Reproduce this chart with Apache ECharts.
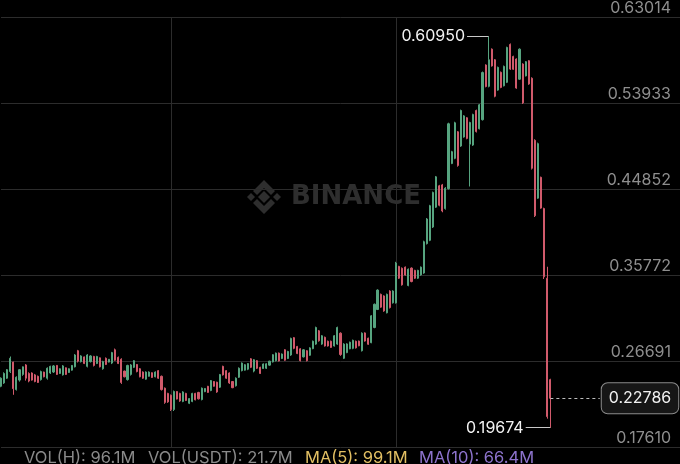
<!DOCTYPE html>
<html>
<head>
<meta charset="utf-8">
<script src="https://cdn.jsdelivr.net/npm/echarts@6/dist/echarts.min.js"></script>
<style>
html,body{margin:0;padding:0;background:#000;}
#chart{width:680px;height:464px;}
</style>
</head>
<body>
<div id="chart"></div>
<script>
// ---- data (hourly candles) ----
const opens = [
.2405,.2440,.2490,.2560,.2660,.2370,.2470,.2530,.2630,.2540,.2545,.2525,.2510,.2475,.2555,.2490,.2545,.2555,.2625,.2540,
.2525,.2600,.2550,.2575,.2610,.2780,.2665,.2715,.2615,.2665,.2720,.2645,.2705,.2590,.2700,.2660,.2650,.2790,.2710,.2690,
.2565,.2475,.2530,.2605,.2635,.2590,.2555,.2480,.2510,.2548,.2505,.2570,.2510,.2385,.2330,.2310,.2160,.2350,.2330,.2245,
.2330,.2225,.2245,.2330,.2340,.2265,.2348,.2405,.2360,.2455,.2448,.2395,.2615,.2570,.2545,.2455,.2410,.2500,.2570,.2575,
.2585,.2695,.2565,.2675,.2605,.2592,.2595,.2628,.2662,.2675,.2755,.2698,.2790,.2698,.2735,.2918,.2825,.2800,.2715,.2780,
.2732,.2802,.2850,.2990,.2850,.2922,.2880,.2880,.2830,.2850,.2965,.2700,.2760,.2800,.2805,.2880,.2882,.2780,.2968,.2912,
.2865,.3025,.3215,.3375,.3358,.3180,.3410,.3285,.3285,.3670,.3650,.3662,.3468,.3652,.3628,.3545,.3580,.3600,.3910,.3945,
.4085,.4295,.4520,.4530,.4280,.4490,.4755,.4810,.5090,.4940,.5035,.5238,.4960,.4950,.5315,.5122,.5218,.5795,.5570,.5962,
.5850,.5530,.5718,.5575,.5612,.6012,.5885,.5858,.5645,.5805,.5680,.5840,.5655,.5000,.4390,.4610,.4280,.3545,.2475
];
const closes = [
.2490,.2540,.2580,.2700,.2380,.2500,.2580,.2610,.2490,.2460,.2470,.2455,.2445,.2560,.2505,.2595,.2615,.2620,.2530,.2590,
.2620,.2530,.2590,.2625,.2735,.2670,.2725,.2645,.2735,.2725,.2625,.2720,.2610,.2665,.2635,.2690,.2760,.2680,.2645,.2445,
.2505,.2625,.2630,.2675,.2560,.2505,.2490,.2555,.2555,.2498,.2555,.2490,.2370,.2235,.2240,.2160,.2350,.2270,.2250,.2345,
.2255,.2275,.2330,.2262,.2272,.2385,.2382,.2340,.2465,.2405,.2345,.2528,.2525,.2490,.2440,.2390,.2490,.2595,.2650,.2632,
.2645,.2605,.2685,.2595,.2540,.2640,.2642,.2670,.2738,.2755,.2672,.2745,.2680,.2772,.2910,.2805,.2750,.2675,.2790,.2675,
.2810,.2880,.3025,.2885,.2938,.2830,.2830,.2815,.2938,.3025,.2740,.2850,.2852,.2870,.2890,.2810,.2832,.2965,.2882,.2848,
.3148,.3270,.3420,.3240,.3200,.3375,.3235,.3410,.3705,.3545,.3475,.3578,.3640,.3510,.3545,.3628,.3662,.3930,.4170,.4310,
.4450,.4615,.4315,.4255,.4495,.5175,.4880,.5185,.4735,.5315,.5258,.5020,.5188,.5272,.5092,.5375,.5715,.5568,.5850,.5785,
.5465,.5770,.5558,.5780,.5980,.5752,.5750,.5552,.5962,.5395,.5830,.5595,.4705,.4205,.4965,.4285,.3560,.2085,.22786
];
const lows = [
.2395,.2430,.2483,.2545,.2315,.2360,.2454,.2516,.2465,.2447,.2465,.2447,.2440,.2465,.2499,.2475,.2535,.2545,.2524,.2535,
.2518,.2524,.2545,.2570,.2604,.2656,.2656,.2639,.2604,.2656,.2614,.2639,.2604,.2580,.2629,.2656,.2639,.2674,.2639,.2430,
.2499,.2465,.2518,.2597,.2552,.2499,.2483,.2474,.2507,.2493,.2499,.2483,.2360,.2220,.2230,.2144,.2144,.2266,.2241,.2237,
.2249,.2217,.2237,.2256,.2266,.2256,.2343,.2336,.2353,.2401,.2336,.2388,.2518,.2483,.2430,.2385,.2402,.2493,.2562,.2570,
.2575,.2597,.2552,.2587,.2535,.2587,.2587,.2622,.2656,.2667,.2667,.2692,.2674,.2692,.2726,.2796,.2744,.2667,.2709,.2667,
.2726,.2796,.2842,.2876,.2842,.2824,.2824,.2810,.2824,.2842,.2726,.2692,.2754,.2796,.2796,.2803,.2827,.2772,.2876,.2842,
.2859,.3017,.3209,.3233,.3191,.3174,.3226,.3278,.3278,.3537,.3467,.3572,.3460,.3502,.3537,.3537,.3572,.3592,.3901,.3936,
.4075,.4287,.4304,.4241,.4269,.4481,.4749,.4801,.4722,.4931,.5028,.5011,.4513,.4941,.5083,.5115,.5209,.5559,.5559,.5778,
.5454,.5523,.5550,.5569,.5604,.5743,.5743,.5544,.5638,.5384,.5674,.5586,.4692,.4191,.4383,.4278,.3537,.2063,.19674
];
const highs = [
.2499,.2552,.2587,.2719,.2664,.2510,.2587,.2614,.2639,.2552,.2552,.2535,.2518,.2570,.2559,.2604,.2622,.2629,.2629,.2594,
.2629,.2604,.2594,.2629,.2744,.2789,.2733,.2719,.2744,.2733,.2726,.2726,.2709,.2674,.2709,.2692,.2768,.2803,.2719,.2700,
.2570,.2632,.2639,.2681,.2639,.2597,.2562,.2562,.2562,.2552,.2562,.2576,.2518,.2392,.2336,.2318,.2360,.2353,.2336,.2353,
.2336,.2280,.2336,.2336,.2346,.2392,.2385,.2409,.2471,.2460,.2453,.2535,.2622,.2576,.2552,.2460,.2499,.2604,.2656,.2639,
.2650,.2702,.2692,.2681,.2611,.2646,.2648,.2674,.2744,.2761,.2761,.2751,.2796,.2779,.2918,.2925,.2831,.2807,.2796,.2786,
.2817,.2887,.3034,.2999,.2945,.2929,.2887,.2887,.2945,.3034,.2974,.2859,.2859,.2876,.2897,.2887,.2887,.2974,.2974,.2918,
.3156,.3278,.3428,.3383,.3365,.3383,.3418,.3418,.3718,.3676,.3659,.3669,.3648,.3659,.3634,.3634,.3669,.3941,.4180,.4319,
.4459,.4624,.4530,.4540,.4506,.5186,.4889,.5196,.5098,.5324,.5266,.5245,.5196,.5281,.5324,.5384,.5726,.5802,.6095,.5970,
.5858,.5778,.5726,.5789,.5988,.6022,.5893,.5865,.5970,.5813,.5837,.5847,.5665,.5011,.4976,.4617,.4289,.3666,.2484
];
// hourly slots on the time axis (traded hours + empty future hours up to the price scale)
const slotCount = 221;
const categories = Array.from({ length: slotCount }, (_, i) => 'H' + i);
const yTicks = [0.17610, 0.26691, 0.35772, 0.44852, 0.53933, 0.63014];
const timeGridIdx = [55, 128];
const legendItems = [
  { label: 'VOL(H)', value: '96.1M' },
  { label: 'VOL(USDT)', value: '21.7M' },
  { label: 'MA(5)', value: '99.1M' },
  { label: 'MA(10)', value: '66.4M' }
];

// ---- chart ----
const UP = '#56a47f', DOWN = '#d05a6b';
const FONT = 'Inter, "Noto Sans", sans-serif';
const ohlc = opens.map((o, i) => [o, closes[i], lows[i], highs[i]]);
const lastIdx = ohlc.length - 1;
const lastPrice = closes[lastIdx];
const hi = Math.max(...highs), hiIdx = highs.indexOf(hi);
const lo = Math.min(...lows), loIdx = lows.indexOf(lo);

const chart = echarts.init(document.getElementById('chart'), null, { renderer: 'canvas' });

const legendX = [24, 148, 305, 419];
const legendColors = ['#8a8a8a', '#8a8a8a', '#e2bf63', '#8d73cc'];
const WM = '#2e2e2e';

const option = {
  backgroundColor: '#000',
  animation: false,
  grid: { left: 1, right: 0, top: 13.3, bottom: 16.7 },
  xAxis: {
    type: 'category',
    data: categories,
    boundaryGap: false,
    axisLine: { show: false },
    axisTick: { show: false },
    axisLabel: { show: false },
    splitLine: {
      show: true,
      interval: (idx) => timeGridIdx.indexOf(idx) >= 0,
      lineStyle: { color: '#2c2c2c', width: 1 }
    }
  },
  yAxis: {
    type: 'value',
    position: 'right',
    min: yTicks[0],
    max: yTicks[yTicks.length - 1],
    interval: (yTicks[yTicks.length - 1] - yTicks[0]) / (yTicks.length - 1),
    axisLine: { show: false },
    axisTick: { show: false },
    axisLabel: {
      inside: true,
      margin: 9,
      color: '#8e8e8e',
      fontFamily: FONT,
      fontSize: 16,
      verticalAlign: 'bottom',
      padding: [0, 0, 1, 0],
      formatter: (v) => {
        let best = yTicks[0];
        yTicks.forEach(t => { if (Math.abs(t - v) < Math.abs(best - v)) best = t; });
        return best.toFixed(5);
      }
    },
    splitLine: { show: true, lineStyle: { color: '#2c2c2c', width: 1 } }
  },
  graphic: [
    {
      type: 'group', left: 247, top: 180, z: 0, silent: true,
      children: [
        { type: 'polygon', shape: { points: [[17,11],[23,17],[17,23],[11,17]] }, style: { fill: WM } },
        { type: 'polygon', shape: { points: [[4,13],[8,17],[4,21],[0,17]] }, style: { fill: WM } },
        { type: 'polygon', shape: { points: [[30,13],[34,17],[30,21],[26,17]] }, style: { fill: WM } },
        { type: 'polygon', shape: { points: [[17,0],[28,11],[24,15],[17,8],[10,15],[6,11]] }, style: { fill: WM } },
        { type: 'polygon', shape: { points: [[17,34],[28,23],[24,19],[17,26],[10,19],[6,23]] }, style: { fill: WM } },
        { type: 'text', x: 44, y: 17, style: { text: 'BINANCE', fill: WM, font: 'bold 26px "DejaVu Sans", sans-serif', textVerticalAlign: 'middle' } }
      ]
    }
  ].concat(legendItems.map((it, i) => ({
    type: 'text', left: legendX[i], top: 450, z: 10, silent: true,
    style: { text: it.label + ': ' + it.value, fill: legendColors[i], font: '16.5px ' + FONT }
  }))),
  series: [{
    type: 'candlestick',
    data: ohlc,
    barWidth: 1.6,
    itemStyle: {
      color: UP, color0: DOWN,
      borderColor: UP, borderColor0: DOWN,
      borderWidth: 1
    },
    markLine: {
      silent: true,
      symbol: ['none', 'none'],
      animation: false,
      data: [
        [
          { coord: [lastIdx, lastPrice], lineStyle: { type: [3, 3], color: '#bdbdbd', width: 1 },
            label: {
              show: true, position: 'end', distance: 2,
              formatter: () => lastPrice.toFixed(5),
              color: '#f2f2f2', fontFamily: FONT, fontSize: 16, lineHeight: 18,
              backgroundColor: '#161616', borderColor: '#8a8a8a', borderWidth: 1, borderRadius: 6,
              padding: [6, 7, 6, 7]
            } },
          { coord: [lastIdx + 16, lastPrice] }
        ],
        [
          { coord: [hiIdx, hi], lineStyle: { type: 'solid', color: '#c8c8c8', width: 1 },
            label: {
              show: true, position: 'end', distance: 2,
              formatter: () => hi.toFixed(5),
              color: '#f2f2f2', fontFamily: FONT, fontSize: 16
            } },
          { coord: [hiIdx - 7, hi] }
        ],
        [
          { coord: [loIdx, lo], lineStyle: { type: 'solid', color: '#c8c8c8', width: 1 },
            label: {
              show: true, position: 'end', distance: 2,
              formatter: () => lo.toFixed(5),
              color: '#f2f2f2', fontFamily: FONT, fontSize: 16
            } },
          { coord: [loIdx - 8, lo] }
        ]
      ]
    }
  }]
};
chart.setOption(option);
</script>
</body>
</html>
